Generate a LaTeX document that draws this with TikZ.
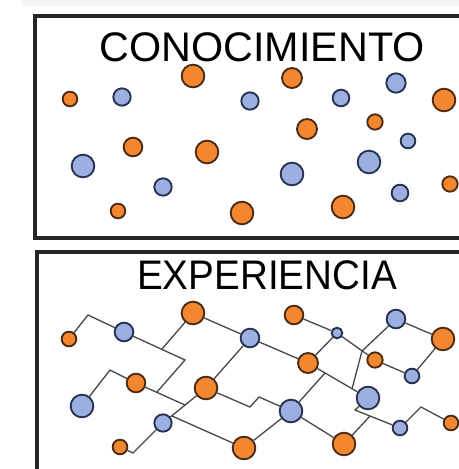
\documentclass[tikz,border=0pt]{standalone}
\usepackage{fontspec}
\setmainfont{Liberation Sans}
\definecolor{naranja}{HTML}{F2872F}
\definecolor{bordeN}{HTML}{4A2A12}
\definecolor{azul}{HTML}{9BAFE1}
\definecolor{bordeA}{HTML}{26304F}
\definecolor{gris}{HTML}{4A4A4A}

\begin{document}
\begin{tikzpicture}[x=0.75pt,y=-0.75pt,
    nar/.style={circle,draw=bordeN,fill=naranja,line width=1.4pt,inner sep=0pt,minimum size=#1},
    azu/.style={circle,draw=bordeA,fill=azul,line width=1.4pt,inner sep=0pt,minimum size=#1},
    enlace/.style={draw=gris,line width=1pt},
    marco/.style={draw=black!85,line width=2.3pt},
    titulo/.style={font=\fontsize{31}{31}\selectfont,inner sep=0pt}]
      \clip (0,0) rectangle (459,469);
      \fill[white] (0,0) rectangle (459,469);
      \fill[black!4] (22,0) rectangle (459,6);

      % marcos
      \draw[marco] (35,16) rectangle (480,238);
      \draw[marco] (37,252) rectangle (480,490);
      \node[titulo] (T1) at (262,47) {CONOCIMIENTO};
      \node[titulo,xscale=0.935,transform shape] (T2) at (267,275) {EXPERIENCIA};

      % conocimiento: puntos sueltos
      \node[nar=11pt] (CN1) at (70,99) {};
      \node[nar=17pt] (CN2) at (193,76) {};
      \node[nar=15pt] (CN3) at (292,78) {};
      \node[nar=17pt] (CN4) at (444,100) {};
      \node[nar=14pt] (CN5) at (133,147) {};
      \node[nar=17pt] (CN6) at (207,152) {};
      \node[nar=15pt] (CN7) at (307,129) {};
      \node[nar=11.5pt] (CN8) at (375,122) {};
      \node[nar=11pt] (CN9) at (118,211) {};
      \node[nar=17pt] (CN10) at (242,213) {};
      \node[nar=17pt] (CN11) at (343,207) {};
      \node[nar=11.5pt] (CN12) at (450,184) {};
      \node[azu=13pt] (CA1) at (122,97) {};
      \node[azu=13pt] (CA2) at (250,101) {};
      \node[azu=12.5pt] (CA3) at (341,98) {};
      \node[azu=14.5pt] (CA4) at (396,83) {};
      \node[azu=17pt] (CA5) at (83,166) {};
      \node[azu=13pt] (CA6) at (163,187) {};
      \node[azu=17pt] (CA7) at (292,174) {};
      \node[azu=17pt] (CA8) at (369,162) {};
      \node[azu=11pt] (CA9) at (408,141) {};
      \node[azu=12.5pt] (CA10) at (400,193) {};

      % experiencia: puntos conectados
      \node[nar=11pt] (EN1) at (69,339) {};
      \node[nar=17pt] (EN2) at (193,313) {};
      \node[nar=14pt] (EN3) at (136,383) {};
      \node[nar=17pt] (EN4) at (206,388) {};
      \node[nar=11pt] (EN5) at (120,447) {};
      \node[nar=14pt] (EN6) at (294,315) {};
      \node[nar=17pt] (EN7) at (443,339) {};
      \node[nar=15pt] (EN8) at (308,363) {};
      \node[nar=11.5pt] (EN9) at (375,360) {};
      \node[nar=11pt] (EN10) at (451,423) {};
      \node[nar=17pt] (EN11) at (344,444) {};
      \node[nar=17pt] (EN12) at (244,448) {};
      \node[azu=14pt] (EA1) at (124,332) {};
      \node[azu=17pt] (EA2) at (82,406) {};
      \node[azu=13pt] (EA3) at (163,423) {};
      \node[azu=14pt] (EA4) at (250,338) {};
      \node[azu=8pt] (EA5) at (337,333) {};
      \node[azu=14pt] (EA6) at (396,319) {};
      \node[azu=11pt] (EA7) at (412,376) {};
      \node[azu=17pt] (EA8) at (368,398) {};
      \node[azu=17pt] (EA9) at (291,411) {};
      \node[azu=11pt] (EA10) at (400,428) {};

      % quiebres y cruces
      \coordinate (K1) at (88,315);
      \coordinate (K2) at (185,360);
      \coordinate (J1) at (162,349);
      \coordinate (K3) at (157,392);
      \coordinate (J4) at (185,405);
      \coordinate (K4) at (110,370);
      \coordinate (K5) at (133,453);
      \coordinate (J5) at (172,416);
      \coordinate (K6) at (250,407);
      \coordinate (K7) at (259,397);
      \coordinate (J2) at (325,373);
      \coordinate (J6) at (362,351);
      \coordinate (J7) at (352,389);
      \coordinate (K8) at (355,410);
      \coordinate (J3) at (370,416);
      \coordinate (K9) at (421,407);

      \draw[enlace] (EN1) -- (K1) -- (EA1) -- (K2) -- (K3);
      \draw[enlace] (EN2) -- (J1);
      \draw[enlace] (EN2) -- (EA4) -- (EN8) -- (EA8);
      \draw[enlace] (EA4) -- (EN4);
      \draw[enlace] (EA2) -- (K4) -- (EN3) -- (J4);
      \draw[enlace] (EN5) -- (K5) -- (EA3) -- (EN4);
      \draw[enlace] (J5) -- (EN12);
      \draw[enlace] (EN4) -- (K6) -- (K7) -- (EA9);
      \draw[enlace] (EA9) -- (EN12);
      \draw[enlace] (EA9) -- (EN11);
      \draw[enlace] (EA9) -- (J2);
      \draw[enlace] (EN6) -- (EA5) -- (EN9) -- (EA7);
      \draw[enlace] (EA5) -- (EN8);
      \draw[enlace] (EA6) -- (EN7) -- (EA7);
      \draw[enlace] (EA6) -- (J6) -- (J7);
      \draw[enlace] (EA8) -- (K8) -- (EA10) -- (K9) -- (EN10);
      \draw[enlace] (J3) -- (EN11);
    \end{tikzpicture}
\end{document}
